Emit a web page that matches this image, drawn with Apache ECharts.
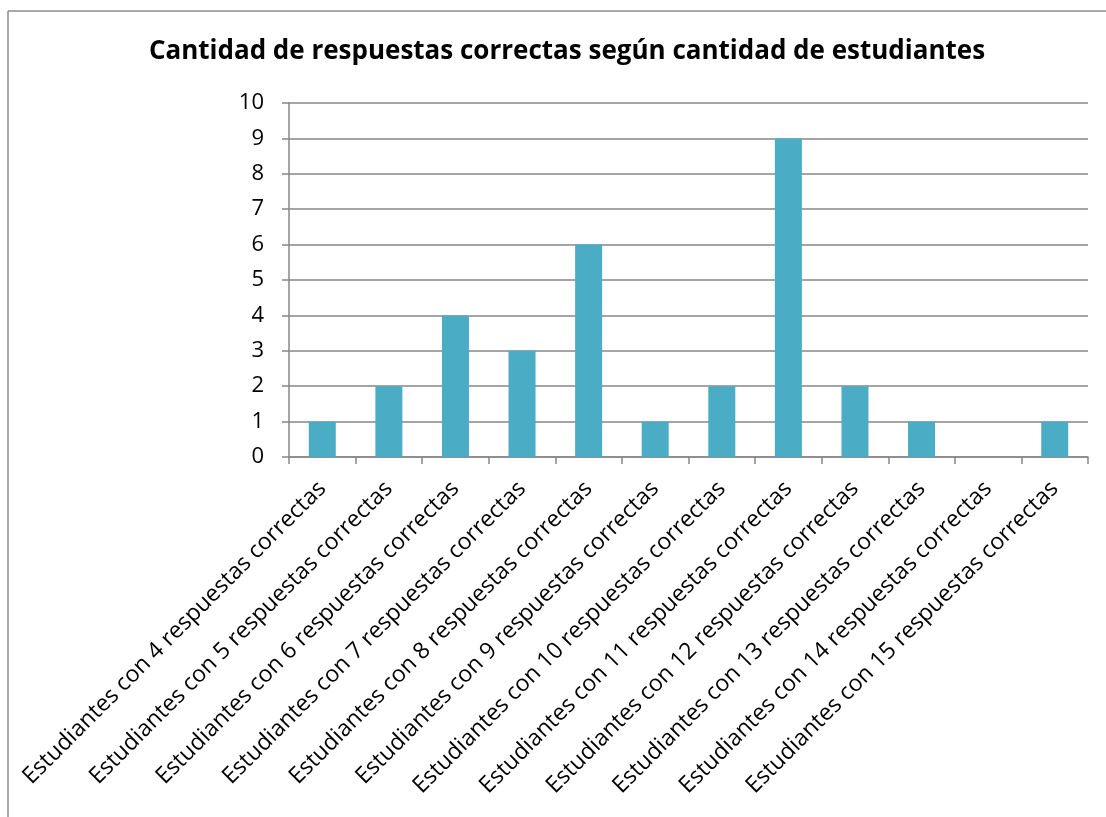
<!DOCTYPE html>
<html>
<head>
<meta charset="utf-8">
<script src="https://cdn.jsdelivr.net/npm/echarts@6/dist/echarts.min.js"></script>
<style>
  html, body { margin: 0; padding: 0; background: #fff; }
  #chart { width: 1106px; height: 817px; }
</style>
</head>
<body>
<div id="chart"></div>
<script>
const categories = [
  'Estudiantes con 4 respuestas correctas',
  'Estudiantes con 5 respuestas correctas',
  'Estudiantes con 6 respuestas correctas',
  'Estudiantes con 7 respuestas correctas',
  'Estudiantes con 8 respuestas correctas',
  'Estudiantes con 9 respuestas correctas',
  'Estudiantes con 10 respuestas correctas',
  'Estudiantes con 11 respuestas correctas',
  'Estudiantes con 12 respuestas correctas',
  'Estudiantes con 13 respuestas correctas',
  'Estudiantes con 14 respuestas correctas',
  'Estudiantes con 15 respuestas correctas',
];
const students = [1, 2, 4, 3, 6, 1, 2, 9, 2, 1, 0, 1];

const chart = echarts.init(document.getElementById('chart'));
const axisGray = '#878787';

chart.setOption({
  animation: false,
  textStyle: { fontFamily: 'Open Sans', color: '#000' },
  title: {
    text: 'Cantidad de respuestas correctas según cantidad de estudiantes',
    left: 562,
    top: 34,
    textAlign: 'center',
    textStyle: { fontSize: 26, fontWeight: 'bold', color: '#000', fontFamily: 'Open Sans' },
  },
  // chart frame (only top and left edges are visible in the original)
  graphic: [
    { type: 'line', shape: { x1: 8, y1: 11, x2: 1106, y2: 11 }, style: { stroke: '#8c8c8c', lineWidth: 1.5 } },
    { type: 'line', shape: { x1: 8, y1: 11, x2: 8, y2: 817 }, style: { stroke: '#8c8c8c', lineWidth: 1.5 } },
  ],
  grid: { left: 289, right: 18, top: 103, bottom: 360 },
  xAxis: {
    type: 'category',
    data: categories,
    axisLine: { lineStyle: { color: axisGray, width: 1.5 } },
    axisTick: { show: true, length: 7, lineStyle: { color: axisGray, width: 1.5 } },
    axisLabel: { rotate: 45, fontSize: 23, color: '#000', margin: 28, interval: 0, fontFamily: 'Open Sans' },
  },
  yAxis: {
    type: 'value',
    min: 0,
    max: 10,
    interval: 1,
    axisLine: { show: true, lineStyle: { color: axisGray, width: 1.5 } },
    axisTick: { show: true, length: 7, lineStyle: { color: axisGray, width: 1.5 } },
    axisLabel: { fontSize: 22, color: '#000', margin: 25, fontFamily: 'Open Sans' },
    splitLine: { lineStyle: { color: axisGray, width: 1.5 } },
  },
  series: [
    {
      type: 'bar',
      data: students,
      barWidth: 27,
      itemStyle: { color: '#4BACC6' },
    },
  ],
});
</script>
</body>
</html>
